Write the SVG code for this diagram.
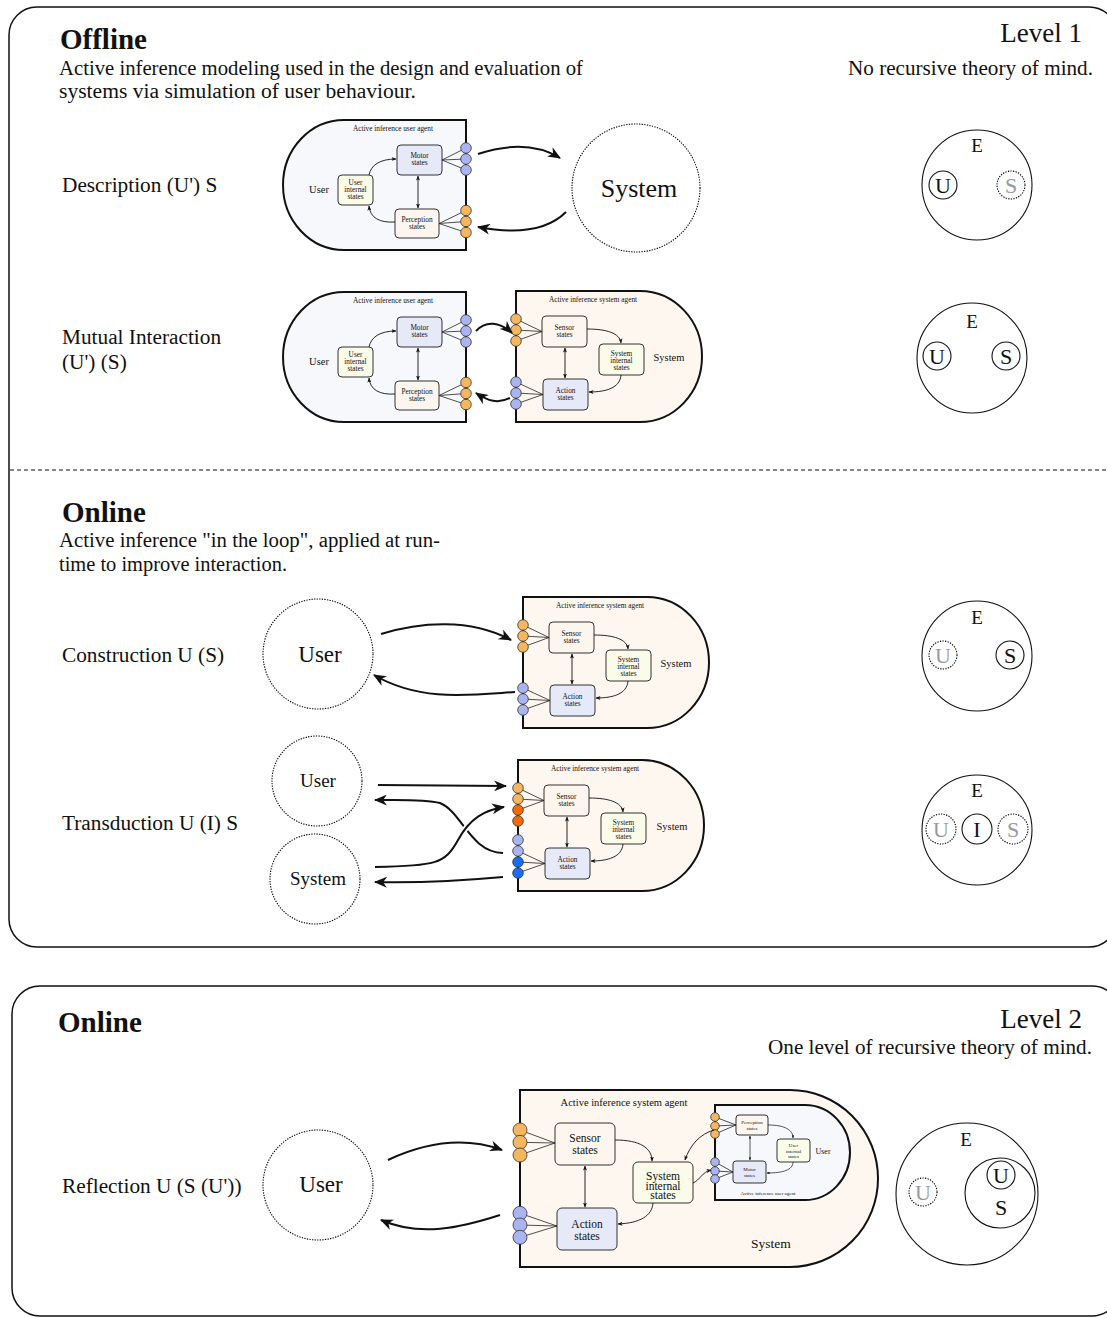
<svg xmlns="http://www.w3.org/2000/svg" width="1107" height="1318" viewBox="0 0 1107 1318">
<defs>
<style>
text{font-family:"Liberation Serif","DejaVu Serif",serif;fill:#111}
.frame{fill:none;stroke:#111;stroke-width:1.5}
.agentU{fill:#f6f8fc;stroke:#111;stroke-width:2}
.agentS{fill:#fdf7f0;stroke:#111;stroke-width:2}
.bm{fill:#e6e9f8;stroke:#333;stroke-width:1}
.bi{fill:#fbfbea;stroke:#333;stroke-width:1}
.bp{fill:#fdf6ee;stroke:#333;stroke-width:1}
.pb{fill:#aab4f0;stroke:#333;stroke-width:0.8}
.po{fill:#f5b660;stroke:#333;stroke-width:0.8}
.pdo{fill:#f26b05;stroke:#333;stroke-width:0.8}
.pdb{fill:#1a6cf0;stroke:#333;stroke-width:0.8}
.fan{fill:none;stroke:#222;stroke-width:0.8}
.ia{fill:none;stroke:#111;stroke-width:0.9;marker-end:url(#sm)}
.ib{fill:none;stroke:#111;stroke-width:0.9;marker-start:url(#sm);marker-end:url(#sm)}
.ta{fill:none;stroke:#111;stroke-width:0.7;marker-end:url(#tn)}
.tb{fill:none;stroke:#111;stroke-width:0.7;marker-start:url(#tn);marker-end:url(#tn)}
.big{fill:none;stroke:#111;stroke-width:2;marker-end:url(#bg)}
.halo{fill:none;stroke:#fff;stroke-width:6}
.dot{fill:none;stroke:#000;stroke-width:1.1;stroke-dasharray:1.3 1.3}
.e{fill:none;stroke:#111;stroke-width:1.1}
.c{text-anchor:middle}
.t5{font-size:5px}
.t7{font-size:7.3px}
.t10{font-size:10.5px}
.t11{font-size:11.5px}
.lab{font-size:21.3px}
.desc{font-size:20.5px}
.head{font-size:29px;font-weight:bold}
.lvl{font-size:27px;text-anchor:end}
.lvd{font-size:20.5px;text-anchor:end}
.el{font-size:19px;text-anchor:middle}
.ul{font-size:22px;text-anchor:middle}
.grey{fill:#999}
</style>
<marker id="bg" viewBox="0 0 12 10" refX="11" refY="5" markerWidth="13" markerHeight="11" markerUnits="userSpaceOnUse" orient="auto"><path d="M0,0 L12,5 L0,10 L3.5,5 Z" fill="#111"/></marker>
<marker id="sm" viewBox="0 0 10 8" refX="9" refY="4" markerWidth="5" markerHeight="4" markerUnits="userSpaceOnUse" orient="auto-start-reverse"><path d="M0,0 L10,4 L0,8 L2.5,4 Z" fill="#111"/></marker>
<marker id="tn" viewBox="0 0 10 8" refX="9" refY="4" markerWidth="3.5" markerHeight="2.8" markerUnits="userSpaceOnUse" orient="auto-start-reverse"><path d="M0,0 L10,4 L0,8 L2.5,4 Z" fill="#111"/></marker>
</defs>
<rect width="1107" height="1318" fill="#fff"/>

<!-- frames -->
<g id="frames">
<rect class="frame" x="9" y="7" width="1108" height="940" rx="28"/>
<line x1="10" y1="470" x2="1107" y2="470" stroke="#111" stroke-width="1.2" stroke-dasharray="4 3"/>
<rect class="frame" x="12" y="986" width="1108" height="330" rx="28"/>
</g>

<!-- headings -->
<g id="headings">
<text class="head" x="60" y="49">Offline</text>
<text class="desc" x="59" y="75" textLength="524" lengthAdjust="spacingAndGlyphs">Active inference modeling used in the design and evaluation of</text>
<text class="desc" x="59" y="98" textLength="357" lengthAdjust="spacingAndGlyphs">systems via simulation of user behaviour.</text>
<text class="lvl" x="1082" y="42">Level 1</text>
<text class="lvd" x="1093" y="75" textLength="245" lengthAdjust="spacingAndGlyphs">No recursive theory of mind.</text>
<text class="lab" x="62" y="192">Description (U') S</text>
<text class="lab" x="62" y="344">Mutual Interaction</text>
<text class="lab" x="62" y="369">(U') (S)</text>
<text class="head" x="62" y="522">Online</text>
<text class="desc" x="59" y="547" textLength="381" lengthAdjust="spacingAndGlyphs">Active inference "in the loop", applied at run-</text>
<text class="desc" x="59" y="571" textLength="228" lengthAdjust="spacingAndGlyphs">time to improve interaction.</text>
<text class="lab" x="62" y="662">Construction U (S)</text>
<text class="lab" x="62" y="830">Transduction U (I) S</text>
<text class="head" x="58" y="1032">Online</text>
<text class="lvl" x="1082" y="1028">Level 2</text>
<text class="lvd" x="1092" y="1054" textLength="324" lengthAdjust="spacingAndGlyphs">One level of recursive theory of mind.</text>
<text class="lab" x="62" y="1193">Reflection U (S (U'))</text>
</g>

<!-- Description: user agent -->
<g id="desc-user-agent">
<path class="agentU" d="M466,120 H344 A61,65 0 0 0 344,250 H466 Z"/>
<text class="t7 c" x="393" y="131">Active inference user agent</text>
<text class="t10 c" x="319" y="193">User</text>
<rect class="bm" x="397" y="145" width="45" height="30" rx="4"/>
<text class="t7 c" x="419.5" y="158">Motor</text><text class="t7 c" x="419.5" y="165">states</text>
<rect class="bi" x="338" y="175" width="35" height="30" rx="4"/>
<text class="t7 c" x="355.5" y="184.5">User</text><text class="t7 c" x="355.5" y="191.5">internal</text><text class="t7 c" x="355.5" y="198.5">states</text>
<rect class="bp" x="395" y="209" width="44" height="29" rx="4"/>
<text class="t7 c" x="417" y="221.5">Perception</text><text class="t7 c" x="417" y="228.5">states</text>
<path class="ia" d="M369,175 C371,165 380,159 396,159"/>
<path class="ia" d="M395,222 C380,223 370,218 369,206"/>
<path class="ib" d="M418,176 V208"/>
<path class="fan" d="M442,160 L466,148 M442,160 L466,159 M442,160 L466,170 M439,223.5 L466,210.5 M439,223.5 L466,221.5 M439,223.5 L466,232.5"/>
<circle class="pb" cx="466" cy="148" r="5.3"/><circle class="pb" cx="466" cy="159" r="5.3"/><circle class="pb" cx="466" cy="170" r="5.3"/>
<circle class="po" cx="466" cy="210.5" r="5.3"/><circle class="po" cx="466" cy="221.5" r="5.3"/><circle class="po" cx="466" cy="232.5" r="5.3"/>
</g>

<g id="desc-system">
<circle class="dot" cx="636" cy="188" r="64"/>
<text class="c" x="639" y="197" font-size="26">System</text>
</g>

<!-- Mutual: user agent -->
<g id="mutual-user-agent" transform="translate(0,172)">
<path class="agentU" d="M466,120 H344 A61,65 0 0 0 344,250 H466 Z"/>
<text class="t7 c" x="393" y="131">Active inference user agent</text>
<text class="t10 c" x="319" y="193">User</text>
<rect class="bm" x="397" y="145" width="45" height="30" rx="4"/>
<text class="t7 c" x="419.5" y="158">Motor</text><text class="t7 c" x="419.5" y="165">states</text>
<rect class="bi" x="338" y="175" width="35" height="30" rx="4"/>
<text class="t7 c" x="355.5" y="184.5">User</text><text class="t7 c" x="355.5" y="191.5">internal</text><text class="t7 c" x="355.5" y="198.5">states</text>
<rect class="bp" x="395" y="209" width="44" height="29" rx="4"/>
<text class="t7 c" x="417" y="221.5">Perception</text><text class="t7 c" x="417" y="228.5">states</text>
<path class="ia" d="M369,175 C371,165 380,159 396,159"/>
<path class="ia" d="M395,222 C380,223 370,218 369,206"/>
<path class="ib" d="M418,176 V208"/>
<path class="fan" d="M442,160 L466,148 M442,160 L466,159 M442,160 L466,170 M439,223.5 L466,210.5 M439,223.5 L466,221.5 M439,223.5 L466,232.5"/>
<circle class="pb" cx="466" cy="148" r="5.3"/><circle class="pb" cx="466" cy="159" r="5.3"/><circle class="pb" cx="466" cy="170" r="5.3"/>
<circle class="po" cx="466" cy="210.5" r="5.3"/><circle class="po" cx="466" cy="221.5" r="5.3"/><circle class="po" cx="466" cy="232.5" r="5.3"/>
</g>

<!-- Mutual: system agent -->
<g id="mutual-system-agent">
<path class="agentS" d="M516,291 H640 A62,65.5 0 0 1 640,422 H516 Z"/>
<text class="t7 c" x="593" y="302">Active inference system agent</text>
<text class="t10 c" x="669" y="361">System</text>
<rect class="bp" x="542" y="316" width="45" height="31" rx="4"/>
<text class="t7 c" x="564.5" y="329.5">Sensor</text><text class="t7 c" x="564.5" y="336.5">states</text>
<rect class="bi" x="599" y="344" width="45" height="31" rx="4"/>
<text class="t7 c" x="621.5" y="355.5">System</text><text class="t7 c" x="621.5" y="362.5">internal</text><text class="t7 c" x="621.5" y="369.5">states</text>
<rect class="bm" x="543" y="379" width="45" height="31" rx="4"/>
<text class="t7 c" x="565.5" y="393">Action</text><text class="t7 c" x="565.5" y="400">states</text>
<path class="ia" d="M587,329 C606,329 620,333 621,343"/>
<path class="ia" d="M621,375 C620,388 606,392 589,392"/>
<path class="ib" d="M565,348 V378"/>
<path class="fan" d="M542,331.5 L516,319 M542,331.5 L516,330 M542,331.5 L516,341 M543,394.5 L516,382 M543,394.5 L516,393 M543,394.5 L516,404"/>
<circle class="po" cx="516" cy="319" r="5.3"/><circle class="po" cx="516" cy="330" r="5.3"/><circle class="po" cx="516" cy="341" r="5.3"/>
<circle class="pb" cx="516" cy="382" r="5.3"/><circle class="pb" cx="516" cy="393" r="5.3"/><circle class="pb" cx="516" cy="404" r="5.3"/>
</g>

<!-- Construction -->
<g id="constr-user">
<circle class="dot" cx="318" cy="654" r="55"/>
<text class="c" x="320" y="662" font-size="23">User</text>
</g>
<g id="constr-system-agent" transform="translate(7,306)">
<path class="agentS" d="M516,291 H640 A62,65.5 0 0 1 640,422 H516 Z"/>
<text class="t7 c" x="593" y="302">Active inference system agent</text>
<text class="t10 c" x="669" y="361">System</text>
<rect class="bp" x="542" y="316" width="45" height="31" rx="4"/>
<text class="t7 c" x="564.5" y="329.5">Sensor</text><text class="t7 c" x="564.5" y="336.5">states</text>
<rect class="bi" x="599" y="344" width="45" height="31" rx="4"/>
<text class="t7 c" x="621.5" y="355.5">System</text><text class="t7 c" x="621.5" y="362.5">internal</text><text class="t7 c" x="621.5" y="369.5">states</text>
<rect class="bm" x="543" y="379" width="45" height="31" rx="4"/>
<text class="t7 c" x="565.5" y="393">Action</text><text class="t7 c" x="565.5" y="400">states</text>
<path class="ia" d="M587,329 C606,329 620,333 621,343"/>
<path class="ia" d="M621,375 C620,388 606,392 589,392"/>
<path class="ib" d="M565,348 V378"/>
<path class="fan" d="M542,331.5 L516,319 M542,331.5 L516,330 M542,331.5 L516,341 M543,394.5 L516,382 M543,394.5 L516,393 M543,394.5 L516,404"/>
<circle class="po" cx="516" cy="319" r="5.3"/><circle class="po" cx="516" cy="330" r="5.3"/><circle class="po" cx="516" cy="341" r="5.3"/>
<circle class="pb" cx="516" cy="382" r="5.3"/><circle class="pb" cx="516" cy="393" r="5.3"/><circle class="pb" cx="516" cy="404" r="5.3"/>
</g>

<!-- Transduction -->
<g id="trans-user">
<circle class="dot" cx="317" cy="781" r="45"/>
<text class="c" x="318" y="787" font-size="19">User</text>
</g>
<g id="trans-system">
<circle class="dot" cx="315" cy="879" r="45"/>
<text class="c" x="318" y="885" font-size="19">System</text>
</g>
<g id="trans-system-agent" transform="translate(2,469)">
<path class="agentS" d="M516,291 H640 A62,65.5 0 0 1 640,422 H516 Z"/>
<text class="t7 c" x="593" y="302">Active inference system agent</text>
<text class="t10 c" x="670" y="361">System</text>
<rect class="bp" x="542" y="316" width="45" height="31" rx="4"/>
<text class="t7 c" x="564.5" y="329.5">Sensor</text><text class="t7 c" x="564.5" y="336.5">states</text>
<rect class="bi" x="599" y="344" width="45" height="31" rx="4"/>
<text class="t7 c" x="621.5" y="355.5">System</text><text class="t7 c" x="621.5" y="362.5">internal</text><text class="t7 c" x="621.5" y="369.5">states</text>
<rect class="bm" x="543" y="379" width="45" height="31" rx="4"/>
<text class="t7 c" x="565.5" y="393">Action</text><text class="t7 c" x="565.5" y="400">states</text>
<path class="ia" d="M587,329 C606,329 620,333 621,343"/>
<path class="ia" d="M621,375 C620,388 606,392 589,392"/>
<path class="ib" d="M565,348 V378"/>
<path class="fan" d="M542,331.5 L516,319 M542,331.5 L516,330 M542,331.5 L516,341 M543,394.5 L516,382 M543,394.5 L516,393 M543,394.5 L516,404"/>
<circle class="po" cx="516" cy="319" r="5.3"/><circle class="po" cx="516" cy="330" r="5.3"/><circle class="pdo" cx="516" cy="341" r="5.3"/><circle class="pdo" cx="516" cy="352" r="5.3"/>
<circle class="pb" cx="516" cy="371" r="5.3"/><circle class="pb" cx="516" cy="382" r="5.3"/><circle class="pdb" cx="516" cy="393" r="5.3"/><circle class="pdb" cx="516" cy="404" r="5.3"/>
</g>

<!-- Reflection -->
<g id="refl-user">
<circle class="dot" cx="318" cy="1185" r="55"/>
<text class="c" x="321" y="1192" font-size="23">User</text>
</g>
<g id="refl-system-agent">
<path class="agentS" d="M520,1090 H790 A88,88.5 0 0 1 790,1267 H520 Z"/>
<text class="c" x="624" y="1106" font-size="10.5">Active inference system agent</text>
<text class="c" x="771" y="1248" font-size="13.5">System</text>
<rect class="bp" x="555" y="1123" width="60" height="42" rx="5"/>
<text class="t11 c" x="585" y="1142">Sensor</text><text class="t11 c" x="585" y="1154">states</text>
<rect class="bi" x="633" y="1162" width="60" height="41" rx="5"/>
<text class="t11 c" x="663" y="1179.5">System</text><text class="t11 c" x="663" y="1189.5">internal</text><text class="t11 c" x="663" y="1199">states</text>
<rect class="bm" x="557" y="1208" width="60" height="42" rx="5"/>
<text class="t11 c" x="587" y="1228">Action</text><text class="t11 c" x="587" y="1240">states</text>
<path class="ia" d="M615,1140 C640,1140 652,1148 652,1161"/>
<path class="ia" d="M653,1203 C652,1216 640,1223 618,1224"/>
<path class="ib" d="M585,1166 V1207"/>
<path class="fan" d="M555,1143 L520,1130 M555,1143 L520,1142.3 M555,1143 L520,1155 M557,1226 L520,1213.3 M557,1226 L520,1225 M557,1226 L520,1237.3"/>
<circle class="po" cx="520" cy="1130" r="7"/><circle class="po" cx="520" cy="1142.3" r="7"/><circle class="po" cx="520" cy="1155" r="7"/>
<circle class="pb" cx="520" cy="1213.3" r="7"/><circle class="pb" cx="520" cy="1225" r="7"/><circle class="pb" cx="520" cy="1237.3" r="7"/>
<!-- nested user agent -->
<g id="refl-inner-user-agent">
<path class="agentU" stroke-width="1.6" d="M715,1105 H805 A45,47.5 0 0 1 805,1200 H715 Z"/>
<text class="c" x="823" y="1154" font-size="8">User</text>
<text class="t5 c" x="768" y="1195">Active inference user agent</text>
<rect class="bp" x="736" y="1115" width="32" height="20" rx="3" stroke-width="0.8"/>
<text class="t5 c" x="752" y="1124">Perception</text><text class="t5 c" x="752" y="1130">states</text>
<rect class="bi" x="777" y="1139" width="33" height="23" rx="3" stroke-width="0.8"/>
<text class="t5 c" x="793.5" y="1147">User</text><text class="t5 c" x="793.5" y="1152.5">internal</text><text class="t5 c" x="793.5" y="1158">states</text>
<rect class="bm" x="733" y="1161" width="33" height="22" rx="3" stroke-width="0.8"/>
<text class="t5 c" x="749.5" y="1170.5">Motor</text><text class="t5 c" x="749.5" y="1176.5">states</text>
<path class="ta" d="M768,1125 C785,1125 793,1130 793,1138"/>
<path class="ta" d="M793,1162 C793,1170 783,1173 767,1173"/>
<path class="tb" d="M750,1136 V1160"/>
<path class="fan" stroke-width="0.6" d="M736,1125 L715,1117 M736,1125 L715,1126 M736,1125 L715,1134 M733,1172 L715,1162 M733,1172 L715,1171 M733,1172 L715,1179"/>
<circle class="po" cx="715" cy="1117" r="4.3"/><circle class="po" cx="715" cy="1126" r="4.3"/><circle class="po" cx="715" cy="1134" r="4.3"/>
<circle class="pb" cx="715" cy="1162" r="4.3"/><circle class="pb" cx="715" cy="1171" r="4.3"/><circle class="pb" cx="715" cy="1179" r="4.3"/>
</g>
<path class="ia" d="M714,1130 C700,1134 690,1145 685,1160"/>
<path class="ia" d="M693,1183 C700,1180 702,1172 711,1170"/>
</g>

<!-- connectors -->
<g id="connectors">
<path class="big" d="M478,154 C508,144 535,143 560,158"/>
<path class="big" d="M566,212 C545,233 510,233 478,227"/>
<path class="big" d="M476,331 C486,320 500,322 512,333"/>
<path class="big" d="M510,398 C498,404 488,401 476,393"/>
<path class="big" d="M381,634 C420,622 470,618 511,640"/>
<path class="big" d="M515,692 C470,695 420,702 374,675"/>
<path class="big" d="M378,785 L506,786"/>
<path class="big" d="M503,853 C470,852 462,812 440,803 C425,799 400,800 375,800"/>
<path class="halo" d="M375,867 C435,866 445,864 458,840 C470,818 485,810 503,807"/>
<path class="big" d="M375,867 C435,866 445,864 458,840 C470,818 485,810 504,807"/>
<path class="big" d="M503,877 C470,880 420,883 375,882"/>
<path class="big" d="M388,1160 C420,1145 460,1135 502,1150"/>
<path class="big" d="M500,1215 C460,1228 420,1237 381,1220"/>
</g>

<!-- environment diagrams -->
<g id="env-description">
<circle class="e" cx="977" cy="185" r="55"/>
<text class="el" x="977" y="152">E</text>
<circle class="e" cx="943" cy="185" r="14"/><text class="ul" x="943" y="193">U</text>
<circle class="dot" cx="1011" cy="185" r="14"/><text class="ul grey" x="1011" y="193">S</text>
</g>
<g id="env-mutual">
<circle class="e" cx="972" cy="358" r="55"/>
<text class="el" x="972" y="328">E</text>
<circle class="e" cx="937" cy="356" r="14"/><text class="ul" x="937" y="364">U</text>
<circle class="e" cx="1006" cy="356" r="14"/><text class="ul" x="1006" y="364">S</text>
</g>
<g id="env-construction">
<circle class="e" cx="977" cy="656" r="55"/>
<text class="el" x="977" y="624">E</text>
<circle class="dot" cx="943" cy="655" r="14"/><text class="ul grey" x="943" y="663">U</text>
<circle class="e" cx="1010" cy="655" r="14"/><text class="ul" x="1010" y="663">S</text>
</g>
<g id="env-transduction">
<circle class="e" cx="977" cy="830" r="55"/>
<text class="el" x="977" y="797">E</text>
<circle class="dot" cx="941" cy="829" r="15"/><text class="ul grey" x="941" y="837">U</text>
<circle class="e" cx="977" cy="829" r="15"/><text class="ul" x="977" y="837">I</text>
<circle class="dot" cx="1013" cy="829" r="15"/><text class="ul grey" x="1013" y="837">S</text>
</g>
<g id="env-reflection">
<circle class="e" cx="967" cy="1194" r="71"/>
<text class="el" x="966" y="1146">E</text>
<circle class="dot" cx="923" cy="1192" r="14" stroke-width="1.2"/><text class="ul grey" x="923" y="1200">U</text>
<circle class="e" cx="1000" cy="1193" r="35"/>
<circle class="e" cx="1001" cy="1175" r="14"/><text class="ul" x="1001" y="1183">U</text>
<text class="ul" x="1001" y="1215">S</text>
</g>
</svg>
